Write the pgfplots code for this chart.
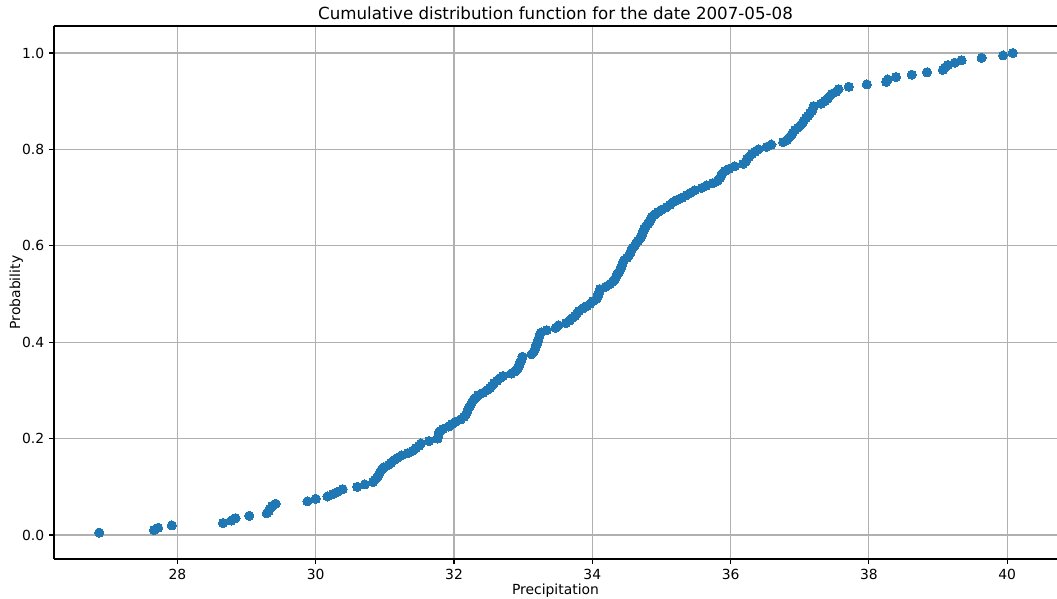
\documentclass[border=0pt]{standalone}
\usepackage{pgfplots}
\pgfplotsset{compat=1.18}
\usepackage{fontspec}
\setmainfont{DejaVu Sans}
\definecolor{mplblue}{RGB}{31,119,180}
\definecolor{gridgray}{RGB}{176,176,176}
\pgfplotstableread{
x y
26.87 0.005
27.66 0.010
27.72 0.015
27.92 0.020
28.66 0.025
28.78 0.030
28.84 0.035
29.04 0.040
29.29 0.045
29.32 0.050
29.34 0.055
29.37 0.060
29.42 0.065
29.88 0.070
30.00 0.075
30.17 0.080
30.25 0.085
30.32 0.090
30.39 0.095
30.60 0.100
30.71 0.105
30.83 0.110
30.86 0.115
30.89 0.120
30.91 0.125
30.93 0.130
30.95 0.135
30.98 0.140
31.05 0.145
31.09 0.150
31.13 0.155
31.18 0.160
31.24 0.165
31.33 0.170
31.40 0.175
31.45 0.180
31.49 0.185
31.52 0.190
31.64 0.195
31.76 0.200
31.77 0.205
31.78 0.210
31.79 0.215
31.84 0.220
31.92 0.225
31.97 0.230
32.02 0.235
32.10 0.240
32.14 0.245
32.17 0.250
32.19 0.255
32.20 0.260
32.22 0.265
32.24 0.270
32.26 0.275
32.28 0.280
32.31 0.285
32.35 0.290
32.42 0.295
32.47 0.300
32.52 0.305
32.55 0.310
32.58 0.315
32.62 0.320
32.66 0.325
32.71 0.330
32.83 0.335
32.89 0.340
32.92 0.345
32.93 0.350
32.95 0.355
32.96 0.360
32.98 0.365
32.99 0.370
33.12 0.375
33.15 0.380
33.17 0.385
33.18 0.390
33.19 0.395
33.21 0.400
33.22 0.405
33.23 0.410
33.24 0.415
33.26 0.420
33.34 0.425
33.47 0.430
33.51 0.435
33.62 0.440
33.67 0.445
33.71 0.450
33.75 0.455
33.78 0.460
33.81 0.465
33.86 0.470
33.92 0.475
33.97 0.480
34.01 0.485
34.06 0.490
34.08 0.495
34.09 0.500
34.10 0.505
34.11 0.510
34.19 0.515
34.25 0.520
34.29 0.525
34.32 0.530
34.34 0.535
34.36 0.540
34.38 0.545
34.40 0.550
34.42 0.555
34.43 0.560
34.44 0.565
34.46 0.570
34.50 0.575
34.53 0.580
34.55 0.585
34.56 0.590
34.58 0.595
34.61 0.600
34.63 0.605
34.66 0.610
34.69 0.615
34.71 0.620
34.72 0.625
34.74 0.630
34.75 0.635
34.77 0.640
34.80 0.645
34.83 0.650
34.84 0.655
34.86 0.660
34.90 0.665
34.95 0.670
35.00 0.675
35.07 0.680
35.12 0.685
35.16 0.690
35.22 0.695
35.30 0.700
35.36 0.705
35.42 0.710
35.48 0.715
35.58 0.720
35.65 0.725
35.74 0.730
35.81 0.735
35.84 0.740
35.86 0.745
35.88 0.750
35.92 0.755
35.98 0.760
36.06 0.765
36.18 0.770
36.22 0.775
36.24 0.780
36.27 0.785
36.31 0.790
36.35 0.795
36.40 0.800
36.52 0.805
36.59 0.810
36.76 0.815
36.82 0.820
36.85 0.825
36.88 0.830
36.90 0.835
36.93 0.840
36.97 0.845
37.01 0.850
37.04 0.855
37.06 0.860
37.09 0.865
37.12 0.870
37.15 0.875
37.18 0.880
37.19 0.885
37.20 0.890
37.31 0.895
37.36 0.900
37.40 0.905
37.43 0.910
37.46 0.915
37.53 0.920
37.56 0.925
37.71 0.930
37.97 0.935
38.25 0.940
38.27 0.945
38.39 0.950
38.62 0.955
38.84 0.960
39.07 0.965
39.10 0.970
39.14 0.975
39.24 0.980
39.34 0.985
39.63 0.990
39.94 0.995
40.08 1.000
}\cdfdata
\begin{document}
\begin{tikzpicture}
\begin{axis}[
  at={(0,0)}, anchor=south west,
  scale only axis,
  width=722.16pt, height=383.76pt,
  xmin=26.215, xmax=40.72,
  ymin=-0.0498, ymax=1.056,
  axis x line=box, axis y line=left,
  y axis line style={-},
  axis line style={line width=0.8pt, black},
  xtick={28,30,32,34,36,38,40},
  ytick={0,0.2,0.4,0.6,0.8,1.0},
  yticklabel style={/pgf/number format/.cd, fixed, fixed zerofill, precision=1},
  /pgf/number format/assume math mode=true,
  tick label style={font=\fontsize{10}{12}\selectfont, black},
  xtick pos=bottom, ytick pos=left,
  tick align=outside,
  major tick length=3.5pt,
  tick style={line width=0.8pt, black},
  grid=major,
  major grid style={line width=0.8pt, gridgray},
  every axis title shift=0pt,
  title={Cumulative distribution function for the date 2007-05-08},
  title style={font=\fontsize{12}{14}\selectfont, at={(axis description cs:0.5,1.0244)}, anchor=center, yshift=0pt},
  xlabel={Precipitation},
  ylabel={Probability},
  xlabel style={font=\fontsize{10}{12}\selectfont, at={(axis description cs:0.5,-0.06)}, anchor=center},
  ylabel style={font=\fontsize{10}{12}\selectfont, at={(axis description cs:-0.0375,0.5)}, anchor=center},
]
\addplot[only marks, mark=*, mark size=3.3pt, mark options={draw=mplblue, fill=mplblue, line width=0pt}] table[x=x, y=y] {\cdfdata};
\end{axis}
\pgfresetboundingbox
\path (-38.88pt,-28.8pt) rectangle (722.16pt,402.48pt);
\end{tikzpicture}
\end{document}
